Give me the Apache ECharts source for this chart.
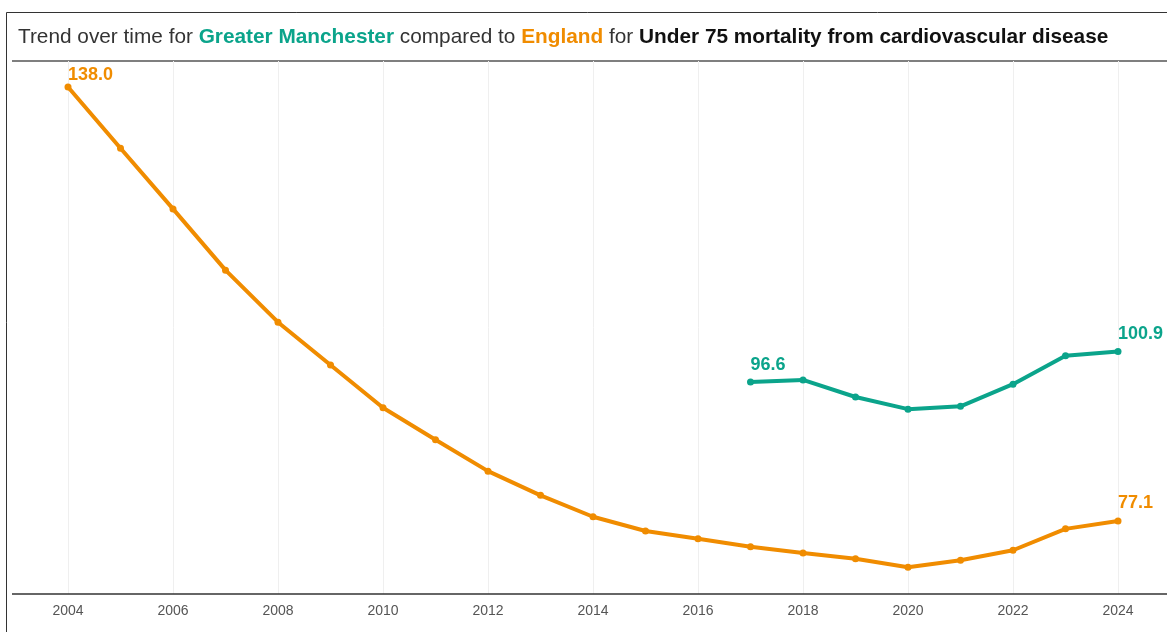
<!DOCTYPE html>
<html>
<head>
<meta charset="utf-8">
<script src="https://cdn.jsdelivr.net/npm/echarts@6/dist/echarts.min.js"></script>
<style>
  html, body { margin: 0; padding: 0; background: #fff; }
  #chart { width: 1167px; height: 632px; }
</style>
</head>
<body>
<div id="chart"></div>
<script>
const years = ['2004', '2005', '2006', '2007', '2008', '2009', '2010', '2011', '2012', '2013', '2014',
  '2015', '2016', '2017', '2018', '2019', '2020', '2021', '2022', '2023', '2024'];

const england = [138.0, 129.4, 120.9, 112.3, 105.0, 99.0, 93.0, 88.5, 84.1, 80.7, 77.7,
  75.7, 74.6, 73.5, 72.6, 71.8, 70.6, 71.6, 73.0, 76.0, 77.1];

const greaterManchester = [null, null, null, null, null, null, null, null, null, null, null,
  null, null, 96.6, 96.9, 94.5, 92.8, 93.2, 96.3, 100.3, 100.9];

const orange = '#f08c00';
const teal = '#0ba48b';

const myChart = echarts.init(document.getElementById('chart'));

// label only the first and last point of each line
function endLabels(values, firstOffset) {
  const first = values.findIndex((v) => v != null);
  const last = values.length - 1;
  return values.map((v, i) => {
    if (i === first) {
      return { value: v, label: { show: true, offset: firstOffset } };
    }
    if (i === last) {
      return { value: v, label: { show: true } };
    }
    return v;
  });
}

const labelStyle = (color) => ({
  show: false,
  position: 'top',
  align: 'left',
  offset: [0, 0],
  color: color,
  fontWeight: 'bold',
  fontSize: 18,
  fontFamily: 'Liberation Sans',
  formatter: (p) => p.value.toFixed(1),
});

const titleSize = 20.8;

const option = {
  animation: false,
  textStyle: { fontFamily: 'Liberation Sans' },
  title: {
    left: 13,
    top: 22,
    text:
      '{n|Trend over time for }{g|Greater Manchester}{n| compared to }' +
      '{e|England}{n| for }{b|Under 75 mortality from cardiovascular disease}',
    textStyle: {
      fontWeight: 'normal',
      rich: {
        n: { fontSize: titleSize, color: '#333', fontWeight: 'normal', fontFamily: 'Liberation Sans' },
        g: { fontSize: titleSize, color: teal, fontWeight: 'bold', fontFamily: 'Liberation Sans' },
        e: { fontSize: titleSize, color: orange, fontWeight: 'bold', fontFamily: 'Liberation Sans' },
        b: { fontSize: titleSize, color: '#111', fontWeight: 'bold', fontFamily: 'Liberation Sans' },
      },
    },
  },
  graphic: [
    {
      type: 'rect',
      shape: { x: 6.5, y: 12.5, width: 1200, height: 700 },
      style: { fill: 'none', stroke: '#333', lineWidth: 1 },
      silent: true,
    },
    {
      type: 'line',
      shape: { x1: 12, y1: 61, x2: 1167, y2: 61 },
      style: { stroke: '#555', lineWidth: 1.5 },
      silent: true,
    },
    {
      type: 'line',
      shape: { x1: 12, y1: 594, x2: 1167, y2: 594 },
      style: { stroke: '#333', lineWidth: 1.5 },
      silent: true,
      z: 10,
    },
  ],
  grid: {
    left: 68,
    right: 49,
    top: 61,
    bottom: 38,
  },
  xAxis: {
    type: 'category',
    boundaryGap: false,
    data: years,
    axisLine: { show: false },
    axisTick: { show: false },
    axisLabel: {
      interval: 1,
      margin: 10,
      color: '#555',
      fontSize: 14,
    },
    splitLine: {
      show: true,
      interval: 1,
      lineStyle: { color: '#efefef', width: 1 },
    },
  },
  yAxis: {
    type: 'value',
    min: 66.86,
    max: 141.65,
    show: false,
    splitLine: { show: false },
  },
  series: [
    {
      name: 'England',
      type: 'line',
      data: endLabels(england, [0, 6]),
      color: orange,
      symbol: 'circle',
      symbolSize: 7,
      lineStyle: { width: 4 },
      label: labelStyle(orange),
    },
    {
      name: 'Greater Manchester',
      type: 'line',
      data: endLabels(greaterManchester, [0, 0]),
      color: teal,
      symbol: 'circle',
      symbolSize: 7,
      lineStyle: { width: 4 },
      label: labelStyle(teal),
    },
  ],
};

myChart.setOption(option);
</script>
</body>
</html>
